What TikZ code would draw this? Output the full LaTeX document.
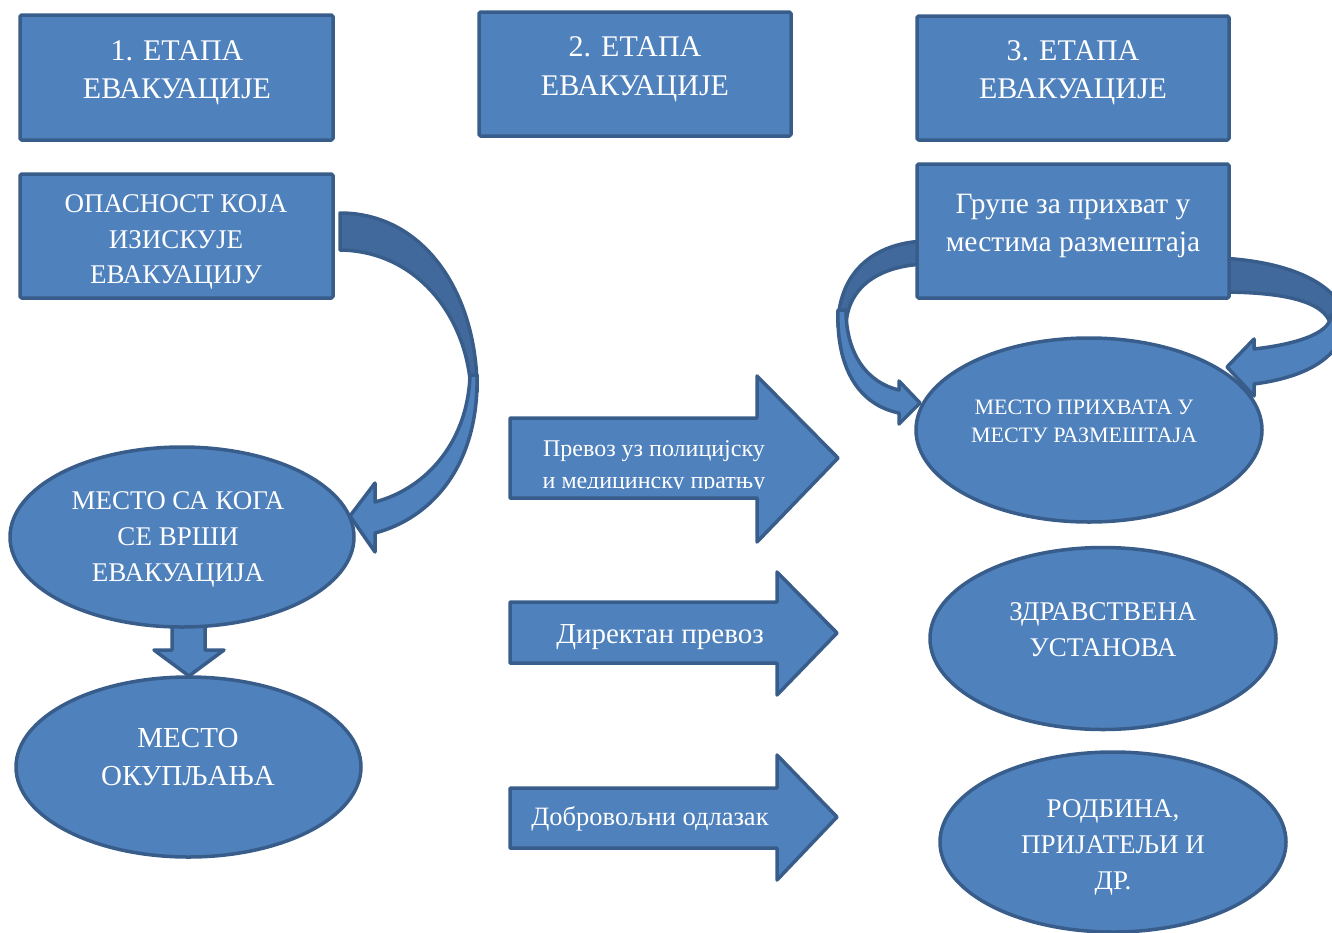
\documentclass[tikz,border=0pt]{standalone}
\usepackage{fontspec}
\setmainfont{Liberation Serif}
\usetikzlibrary{shapes.geometric}
\definecolor{fillblue}{HTML}{4F81BD}
\definecolor{lineblue}{HTML}{385D8A}
\definecolor{darkband}{HTML}{41699B}
\tikzset{
  shp/.style={fill=fillblue, draw=lineblue, line width=3.5pt, line join=round},
  band/.style={fill=darkband, draw=lineblue, line width=3.5pt, line join=round},
  boxnode/.style={shp, rectangle, rounded corners=1.5pt, inner sep=0pt},
  ellnode/.style={shp, ellipse, inner sep=0pt},
  txt/.style={text=white, align=center, inner sep=0pt},
}
\newcommand{\fs}[2]{\fontsize{#1}{#2}\selectfont}
\begin{document}
\begin{tikzpicture}[x=1pt, y=-1pt]
\useasboundingbox (0,0) rectangle (1332,932);

% top boxes
\node[boxnode, minimum width=313pt, minimum height=125pt] (b1) at (176.5,77.5) {};
\node[txt, font=\fs{30}{38}] (t1) at (177,73) {1. ЕТАПА\\ЕВАКУАЦИЈЕ};
\node[boxnode, minimum width=312pt, minimum height=124pt] (b2) at (635,74) {};
\node[txt, font=\fs{30}{39}] (t2) at (635,69) {2. ЕТАПА\\ЕВАКУАЦИЈЕ};
\node[boxnode, minimum width=312pt, minimum height=124pt] (b3) at (1073,78) {};
\node[txt, font=\fs{30}{38}] (t3) at (1073,73) {3. ЕТАПА\\ЕВАКУАЦИЈЕ};

% left column
\node[boxnode, minimum width=313pt, minimum height=124pt] (b4) at (176.5,236) {};
\node[txt, font=\fs{27}{35.5}] (t4) at (176,242) {ОПАСНОСТ КОЈА\\ИЗИСКУЈЕ\\ЕВАКУАЦИЈУ};

% down arrow
\draw[shp] (172,620) -- (205,620) -- (205,650) -- (224,650) -- (189,676) -- (154,650) -- (172,650) -- cycle;

\node[ellnode, minimum width=344pt, minimum height=180pt] (e1) at (182,537) {};
\node[txt, font=\fs{27}{36}] (te1) at (178,539) {МЕСТО СА КОГА\\СЕ ВРШИ\\ЕВАКУАЦИЈА};
\node[ellnode, minimum width=345pt, minimum height=180pt] (e2) at (188.5,767) {};
\node[txt, font=\fs{29}{38}] (te2) at (188,757) {МЕСТО\\ОКУПЉАЊА};

% left curved arrow
\draw[band] (340,213) .. controls (425,213) and (478,295) .. (477,392) -- (471,392) .. controls (468,318) and (418,251) .. (340,250) -- cycle;
\draw[shp] (477,375) .. controls (479,465) and (432,518) .. (375,533) -- (375,552) -- (350,516) -- (375,483) -- (375,502) .. controls (428,488) and (468,440) .. (470,375) -- cycle;

% right ellipses
\node[ellnode, minimum width=346pt, minimum height=184pt] (e3) at (1089,430) {};
\node[txt, font=\fs{22}{28}] (te3) at (1084,421) {МЕСТО ПРИХВАТА У\\МЕСТУ РАЗМЕШТАЈА};
\node[ellnode, minimum width=346pt, minimum height=182pt] (e4) at (1103,638.5) {};
\node[txt, font=\fs{27}{36}] (te4) at (1103,630) {ЗДРАВСТВЕНА\\УСТАНОВА};
\node[ellnode, minimum width=346pt, minimum height=180pt] (e5) at (1113,842) {};
\node[txt, font=\fs{27}{36}] (te5) at (1113,847) {РОДБИНА,\\ПРИЈАТЕЉИ И\\ДР.};

% right curved arrows (behind box 5)
\draw[band] (925,241) .. controls (870,243) and (838,276) .. (838,326) -- (846,326) .. controls (847,290) and (875,266) .. (925,264) -- cycle;
\draw[shp] (838,310) .. controls (836,370) and (860,405) .. (899,413) -- (899,424) -- (920,403) -- (899,381) -- (899,390) .. controls (868,383) and (846,355) .. (846,310) -- cycle;
\begin{scope}
\clip (0,0) rectangle (1332,932);
\draw[band] (1220,258) .. controls (1300,262) and (1346,290) .. (1346,326) -- (1331,326) .. controls (1326,300) and (1280,292) .. (1220,292) -- cycle;
\draw[shp] (1346,315) .. controls (1346,360) and (1300,378) .. (1254,384) -- (1254,396) -- (1227,367) -- (1254,339) -- (1254,349) .. controls (1290,345) and (1331,335) .. (1331,315) -- cycle;
\end{scope}

\node[boxnode, minimum width=312pt, minimum height=134pt] (b5) at (1073,231) {};
\node[txt, font=\fs{29.5}{38}] (t5) at (1073,226) {Групе за прихват у\\местима размештаја};

% block arrows
\draw[shp] (510,418) -- (757,418) -- (757,376) -- (838,458) -- (757,542) -- (757,498) -- (510,498) -- cycle;
\begin{scope}
\clip (510,418) rectangle (800,488);
\node[txt, font=\fs{24}{32}] (ta) at (654,467) {Превоз уз полицијску\\и медицинску пратњу};
\end{scope}
\draw[shp] (510,602) -- (777,602) -- (777,572) -- (837,633) -- (777,695) -- (777,663) -- (510,663) -- cycle;
\node[txt, font=\fs{29}{36}] (tb) at (660,637) {Директан превоз};
\draw[shp] (510,788) -- (777,788) -- (777,755) -- (837,817) -- (777,880) -- (777,848) -- (510,848) -- cycle;
\node[txt, font=\fs{26.5}{34}] (tc) at (650,819) {Добровољни одлазак};
\end{tikzpicture}
\end{document}
